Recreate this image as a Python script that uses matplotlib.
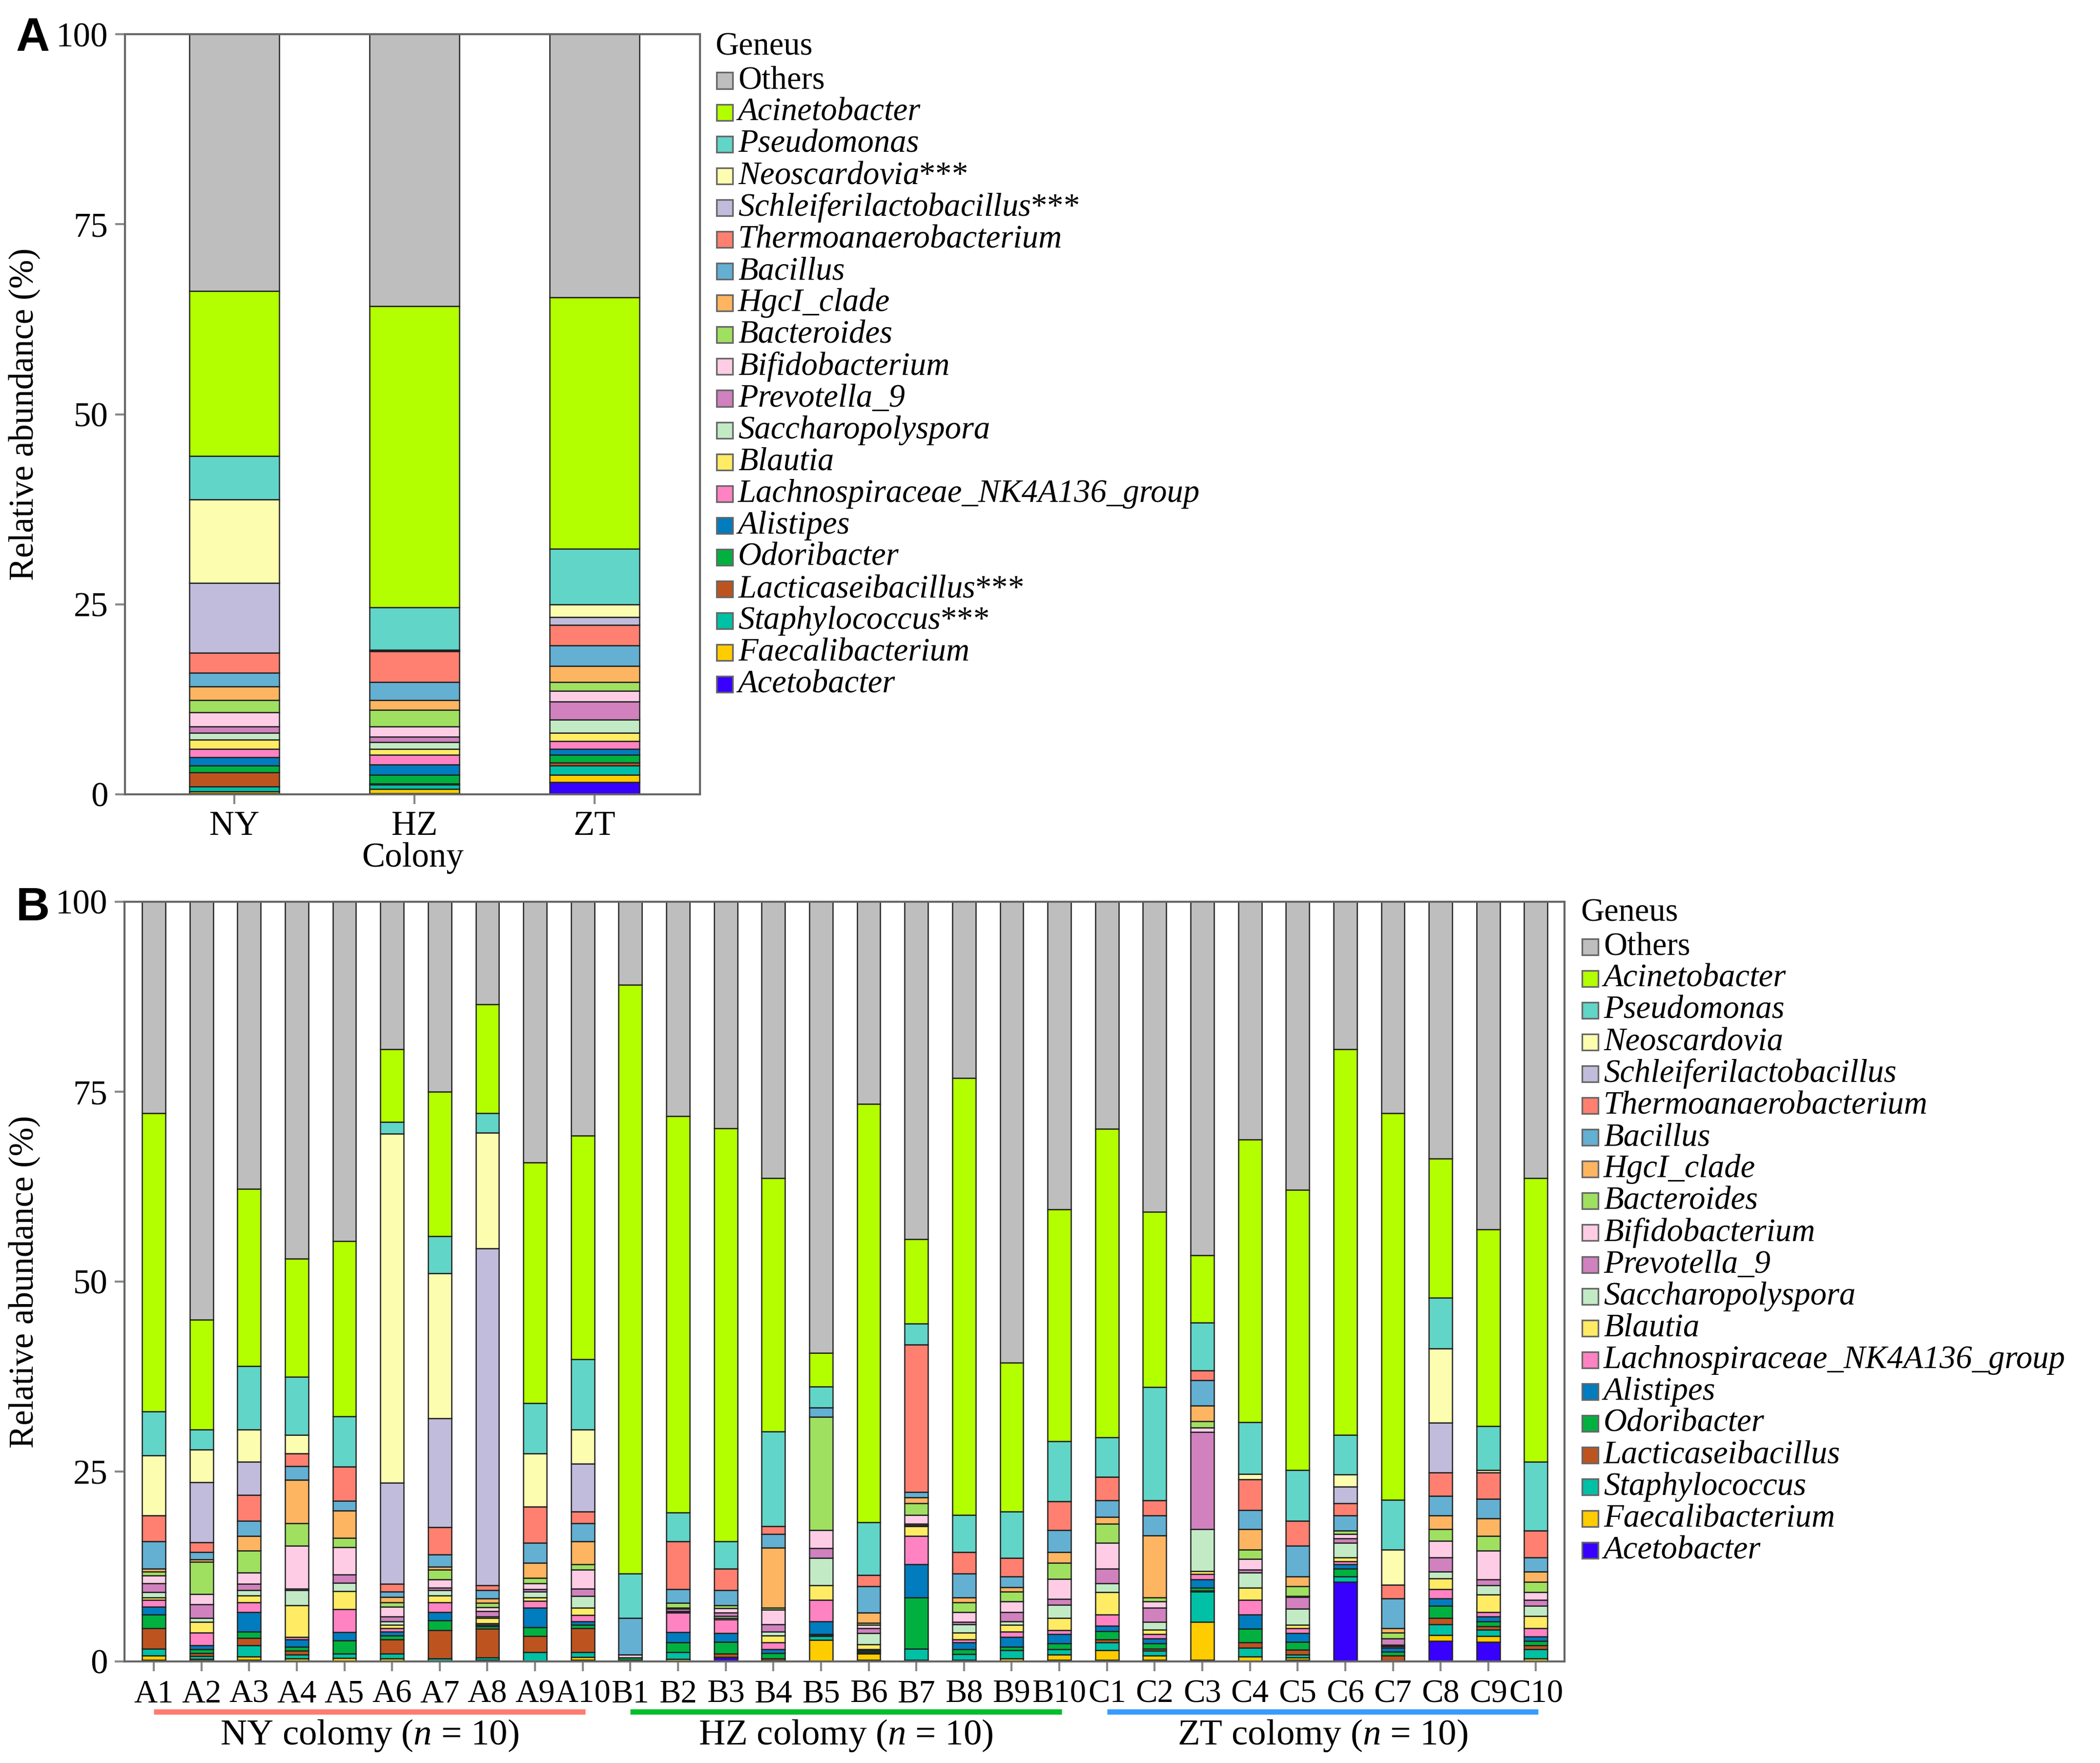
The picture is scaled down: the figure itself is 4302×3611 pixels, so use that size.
import matplotlib

matplotlib.use("Agg")
import matplotlib.pyplot as plt
import numpy as np
from matplotlib import font_manager as fm
from matplotlib.patches import Rectangle
from matplotlib.transforms import blended_transform_factory

avail = {f.name for f in fm.fontManager.ttflist}
SERIF = "Liberation Serif" if "Liberation Serif" in avail else "DejaVu Serif"
SANS = "Liberation Sans" if "Liberation Sans" in avail else "DejaVu Sans"

plt.rcParams.update({
    "font.family": [SERIF, "DejaVu Serif"],
    "mathtext.fontset": "custom",
    "mathtext.rm": SERIF,
    "mathtext.it": SERIF + ":italic",
    "font.size": 17,
})

W, H, DPI = 4302, 3611, 300

# ---------------------------------------------------------------- data
# stack order, bottom -> top ("Others" fills up to 100 %)
genera = ["Acetobacter", "Faecalibacterium", "Staphylococcus", "Lacticaseibacillus",
          "Odoribacter", "Alistipes", "Lachnospiraceae_NK4A136_group", "Blautia",
          "Saccharopolyspora", "Prevotella_9", "Bifidobacterium", "Bacteroides",
          "HgcI_clade", "Bacillus", "Thermoanaerobacterium", "Schleiferilactobacillus",
          "Neoscardovia", "Pseudomonas", "Acinetobacter"]
starred = {"Neoscardovia", "Schleiferilactobacillus", "Lacticaseibacillus", "Staphylococcus"}
colors = ["#3700FF", "#FFCC00", "#00C0A5", "#BD5420", "#00B140", "#017CBE", "#FF83C3",
          "#FFEB64", "#C2EBC5", "#D081BE", "#FECDE5", "#A0E060", "#FDB561", "#63B0D3",
          "#FF8070", "#C1BCDB", "#FDFDB0", "#61D5C8", "#B3FF00"]
others_color = "#BEBEBE"

colonies = ["NY", "HZ", "ZT"]
a_acetobacter = [0.1, 0.1, 1.6]
a_faecalibacterium = [0.3, 0.6, 1.0]
a_staphylococcus = [0.6, 0.6, 1.2]
a_lacticaseibacillus = [1.9, 0.1, 0.4]
a_odoribacter = [0.9, 1.2, 1.0]
a_alistipes = [1.1, 1.3, 0.8]
a_lachnospiraceae = [1.1, 1.3, 1.0]
a_blautia = [1.2, 0.8, 1.1]
a_saccharopolyspora = [0.9, 0.9, 1.7]
a_prevotella = [0.8, 0.7, 2.4]
a_bifidobacterium = [1.9, 1.3, 1.4]
a_bacteroides = [1.6, 2.2, 1.2]
a_hgci = [1.8, 1.3, 2.1]
a_bacillus = [1.8, 2.4, 2.7]
a_thermo = [2.6, 4.0, 2.7]
a_schleif = [9.2, 0.1, 1.0]
a_neoscardovia = [11.0, 0.1, 1.7]
a_pseudomonas = [5.7, 5.6, 7.3]
a_acinetobacter = [21.7, 39.6, 33.1]

samples = [f"{g}{i}" for g in "ABC" for i in range(1, 11)]
b_acetobacter = [0.2, 0.1, 0.2, 0, 0, 0, 0, 0.1, 0, 0.2,
                 0.2, 0, 0.5, 0, 0, 0.2, 0.1, 0.1, 0, 0.2,
                 0.2, 0.2, 0.2, 0, 0.2, 10.5, 0, 2.7, 2.6, 0]
b_faecalibacterium = [0.55, 0.25, 0.45, 0.4, 0.45, 0.4, 0, 0.1, 0, 0.4,
                      0, 0.35, 0, 0, 2.8, 0.8, 0.1, 0.1, 0.4, 0.7,
                      1.25, 0.55, 5.0, 0.65, 0.3, 0, 0, 0.8, 0.75, 0.4]
b_staphylococcus = [0.95, 0.35, 1.45, 0.5, 0.55, 0.6, 0.4, 0.3, 1.2, 0.6,
                    0, 0.85, 0.1, 0.1, 0.55, 0.1, 1.5, 0.75, 1.05, 0.7,
                    1.05, 0.65, 4.0, 1.15, 0.4, 0.7, 0, 1.4, 0.85, 1.2]
b_lacticaseibacillus = [2.7, 0.4, 1.0, 0.5, 0.05, 1.9, 3.7, 3.8, 2.15, 3.2,
                        0, 0, 0.4, 0.3, 0.1, 0.1, 0, 0, 0, 0,
                        0.4, 0.3, 0.1, 0.7, 0.65, 0, 0.8, 0.8, 0.4, 0.5]
b_odoribacter = [1.8, 0.5, 0.8, 0.5, 1.7, 0.5, 1.3, 0.3, 1.15, 0.4,
                 0.3, 1.3, 1.6, 0.7, 0.15, 0.2, 6.7, 0.65, 0.45, 0.8,
                 1.1, 0.7, 0.4, 1.8, 1.05, 1.0, 0.5, 1.6, 0.7, 0.6]
b_alistipes = [1.0, 0.5, 2.6, 1.0, 1.1, 0.5, 1.1, 0.2, 2.6, 0.5,
               0, 1.35, 1.1, 0.5, 1.7, 0.1, 4.4, 0.9, 1.3, 1.2,
               0.7, 0.65, 1.1, 1.9, 1.1, 0.6, 0.5, 1.0, 0.6, 0.6]
b_lachnospiraceae = [0.9, 1.7, 1.3, 0.3, 3.0, 0.5, 1.25, 0.2, 0.9, 0.8,
                     0, 2.55, 1.8, 0.9, 2.8, 0.1, 3.7, 0.4, 0.7, 0.5,
                     1.5, 0.55, 0.7, 1.9, 0.7, 0.4, 0.2, 1.2, 0.6, 1.1]
b_blautia = [0.3, 1.4, 0.9, 4.2, 2.4, 0.4, 0.95, 0.7, 0.4, 1.0,
             0, 0.1, 0.2, 0.9, 1.9, 0.65, 1.3, 0.9, 0.9, 1.6,
             2.9, 0.6, 0.4, 1.6, 0.4, 0.5, 0.1, 1.4, 2.3, 1.6]
b_saccharopolyspora = [0.7, 0.5, 0.7, 2.0, 1.1, 0.5, 0.7, 0.2, 0.8, 1.5,
                       0, 0.1, 0.3, 0.5, 3.6, 1.45, 0.1, 1.1, 0.5, 1.75,
                       1.2, 1.0, 5.5, 2.0, 2.15, 1.9, 0.1, 0.9, 1.2, 1.3]
b_prevotella = [1.2, 1.8, 0.8, 0.2, 1.1, 0.6, 0.3, 0.7, 0.3, 1.0,
                0, 0.35, 0.4, 1.0, 1.3, 0.7, 0.2, 0.3, 1.2, 0.75,
                1.9, 1.9, 12.8, 0.4, 1.55, 0.6, 0.85, 1.9, 0.8, 0.8]
b_bifidobacterium = [1.0, 1.4, 1.5, 5.6, 3.6, 1.3, 1.1, 0.55, 0.8, 2.5,
                     0.4, 0.1, 0.6, 1.9, 2.4, 0.4, 1.2, 1.3, 1.4, 2.65,
                     3.4, 0.8, 0.6, 1.4, 0.1, 0.6, 0, 2.2, 3.8, 1.0]
b_bacteroides = [0.5, 4.2, 2.9, 3.0, 1.2, 0.55, 1.3, 0.55, 0.7, 0.7,
                 0, 0.65, 0.4, 0.3, 14.9, 0.3, 1.5, 1.3, 1.3, 2.15,
                 2.5, 0.5, 0.8, 1.2, 1.3, 0.4, 0.75, 1.5, 1.9, 1.35]
b_hgci = [0.4, 0.3, 1.9, 5.7, 3.6, 0.75, 0.4, 0.6, 2.0, 3.0,
          0, 0, 0, 7.9, 0, 1.3, 0.8, 0.6, 0.6, 1.4,
          0.9, 8.2, 2.1, 2.7, 1.3, 0, 0.6, 1.8, 2.3, 1.35]
b_bacillus = [3.6, 1.0, 2.0, 1.8, 1.3, 0.7, 1.6, 1.1, 2.6, 2.4,
              4.85, 1.8, 2.0, 1.8, 1.2, 3.5, 0.7, 3.2, 1.4, 2.9,
              2.2, 2.6, 3.3, 2.5, 4.0, 2.0, 3.9, 2.6, 2.6, 1.9]
b_thermo = [3.4, 1.3, 3.4, 1.7, 4.5, 1.0, 3.6, 0.6, 4.8, 1.5,
            0, 6.3, 2.8, 1.0, 0, 1.5, 19.4, 2.8, 2.4, 3.8,
            3.1, 2.0, 1.3, 4.1, 3.3, 1.6, 1.8, 3.1, 3.5, 3.5]
b_schleif = [0, 7.9, 4.4, 0, 0, 13.3, 14.3, 44.4, 0, 6.3,
             0, 0, 0, 0, 0, 0, 0, 0, 0, 0,
             0, 0, 0, 0, 0, 2.2, 0, 6.5, 0, 0]
b_neoscardovia = [7.9, 4.3, 4.2, 2.4, 0, 46.0, 19.1, 15.2, 7.0, 4.5,
                  0, 0, 0, 0, 0, 0, 0, 0, 0, 0,
                  0, 0, 0, 0.7, 0, 1.6, 4.6, 9.8, 0.3, 0]
b_pseudomonas = [5.8, 2.6, 8.4, 7.7, 6.6, 1.5, 4.9, 2.6, 6.6, 9.3,
                 5.85, 3.8, 3.6, 12.5, 2.8, 6.9, 2.8, 4.9, 6.1, 7.9,
                 5.2, 14.9, 6.3, 6.8, 6.7, 5.2, 6.6, 6.7, 5.8, 9.1]
b_acinetobacter = [39.3, 14.5, 23.3, 15.5, 23.1, 9.6, 19.0, 14.3, 31.7, 29.4,
                   77.5, 52.2, 54.4, 33.3, 4.4, 55.1, 11.1, 57.5, 19.6, 30.5,
                   40.6, 23.1, 8.9, 37.2, 36.9, 50.8, 50.9, 18.3, 25.9, 37.3]

groups = ["NY", "HZ", "ZT"]
group_colors = ["#FF7B73", "#00BF2C", "#3A9BFF"]

series_a = [a_acetobacter, a_faecalibacterium, a_staphylococcus, a_lacticaseibacillus,
            a_odoribacter, a_alistipes, a_lachnospiraceae, a_blautia, a_saccharopolyspora,
            a_prevotella, a_bifidobacterium, a_bacteroides, a_hgci, a_bacillus, a_thermo,
            a_schleif, a_neoscardovia, a_pseudomonas, a_acinetobacter]
series_b = [b_acetobacter, b_faecalibacterium, b_staphylococcus, b_lacticaseibacillus,
            b_odoribacter, b_alistipes, b_lachnospiraceae, b_blautia, b_saccharopolyspora,
            b_prevotella, b_bifidobacterium, b_bacteroides, b_hgci, b_bacillus, b_thermo,
            b_schleif, b_neoscardovia, b_pseudomonas, b_acinetobacter]


def fx(px):
    return px / W


def fy(py):
    return 1 - py / H


def stacked(ax, x, series, width):
    bottom = np.zeros(len(x))
    for vals, col in zip(series, colors):
        vals = np.asarray(vals, dtype=float)
        ax.bar(x, vals, width, bottom=bottom, color=col, edgecolor="#222222", linewidth=0.6)
        bottom += vals
    ax.bar(x, 100 - bottom, width, bottom=bottom, color=others_color,
           edgecolor="#222222", linewidth=0.6)


def style_axis(ax):
    ax.set_ylim(0, 100)
    ax.set_yticks([0, 25, 50, 75, 100])
    for s in ax.spines.values():
        s.set_color("#666666")
        s.set_linewidth(1.0)
    ax.tick_params(direction="out", length=4.8, width=1.0, color="#888888",
                   labelsize=17, pad=3.5)


def legend(fig, x0, y0, stars):
    fig.text(fx(x0 - 3), fy(y0 - 69), "Geneus", fontsize=16, ha="left", va="center")
    labels = ["Others"] + genera[::-1]
    cols = [others_color] + colors[::-1]
    for i, (lab, col) in enumerate(zip(labels, cols)):
        yc = y0 + 65.1 * i
        fig.patches.append(Rectangle((fx(x0), fy(yc + 16.5)), 33 / W, 33 / H,
                                     transform=fig.transFigure, facecolor=col,
                                     edgecolor="#666666", linewidth=0.8))
        if lab == "Others":
            txt, style = lab, "normal"
        elif stars and lab in starred:
            txt, style = r"$\mathit{" + lab + "}$***", "normal"
        else:
            txt, style = lab, "italic"
        fig.text(fx(x0 + 44), fy(yc), txt, fontsize=16, fontstyle=style,
                 ha="left", va="center")


fig = plt.figure(figsize=(W / DPI, H / DPI), dpi=DPI)

# ---------------------------------------------------------------- panel A
axA = fig.add_axes([fx(256), fy(1627), 1178 / W, 1557 / H])
xa = np.arange(len(colonies))
stacked(axA, xa, series_a, 0.5)
style_axis(axA)
axA.set_xlim(-0.607, 2.585)
axA.set_xticks(xa)
axA.set_xticklabels(colonies)
axA.tick_params(axis="x", pad=3)
axA.set_xlabel("Colony", fontsize=17, labelpad=0)
axA.set_ylabel("Relative abundance (%)", fontsize=17)
axA.yaxis.set_label_coords(-0.147, 0.5)
fig.text(fx(33), fy(79), "A", fontsize=23, fontweight="bold",
         family=SANS, ha="left", va="center")
legend(fig, 1468, 165, True)

# ---------------------------------------------------------------- panel B
axB = fig.add_axes([fx(255), fy(3403), 2950 / W, 1556 / H])
xb = np.arange(len(samples))
stacked(axB, xb, series_b, 0.49)
style_axis(axB)
axB.set_xlim(-0.615, 29.6)
axB.set_xticks(xb)
axB.set_xticklabels(samples, fontsize=16)
axB.tick_params(axis="x", pad=4)
axB.set_ylabel("Relative abundance (%)", fontsize=17)
axB.yaxis.set_label_coords(-0.0583, 0.5)
fig.text(fx(33), fy(79 + 1781), "B", fontsize=23, fontweight="bold",
         family=SANS, ha="left", va="center")
legend(fig, 1468 + 1773, 165 + 1774, False)

trans = blended_transform_factory(axB.transData, axB.transAxes)
for g, (name, col) in enumerate(zip(groups, group_colors)):
    x0, x1 = g * 10 + 0.0, g * 10 + 9.05
    axB.plot([x0, x1], [-0.066, -0.066], color=col, lw=2.6, transform=trans,
             clip_on=False, solid_capstyle="butt")
    axB.text((x0 + x1) / 2, -0.098, name + r" colomy ($\mathit{n}$ = 10)", fontsize=18,
             ha="center", va="center", transform=trans)

fig.savefig("out.png", dpi=DPI)
